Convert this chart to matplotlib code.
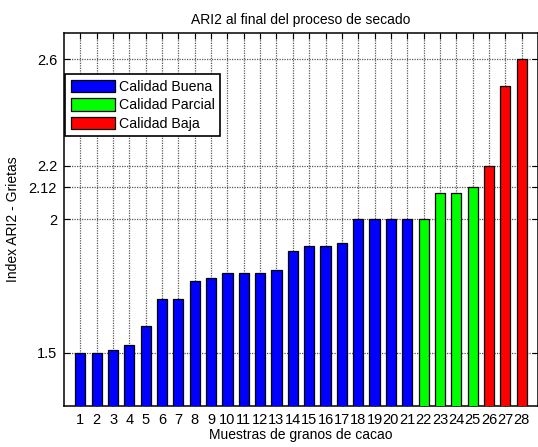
import numpy as np
import matplotlib
matplotlib.use("Agg")
import matplotlib.pyplot as plt

plt.rcParams['font.family'] = ['Liberation Sans', 'DejaVu Sans']

# Muestras y valores del indice ARI2
muestras = np.arange(1, 29)
ari2 = [1.50, 1.50, 1.51, 1.53, 1.60, 1.70, 1.70, 1.77, 1.78, 1.80,
        1.80, 1.80, 1.81, 1.88, 1.90, 1.90, 1.91, 2.00, 2.00, 2.00,
        2.00, 2.00, 2.10, 2.10, 2.12, 2.20, 2.50, 2.60]
calidad = ['Buena'] * 21 + ['Parcial'] * 4 + ['Baja'] * 3

grupos = ['Buena', 'Parcial', 'Baja']
etiquetas = ['Calidad Buena', 'Calidad Parcial', 'Calidad Baja']
colores = ['#0000ff', '#00ff00', '#ff0000']
yticks = [1.5, 2, 2.12, 2.2, 2.6]

fig = plt.figure(figsize=(5.38, 4.47), dpi=100)
ax = fig.add_axes([0.119, 0.092, 0.881, 0.835])

x = np.array(muestras)
y = np.array(ari2)
cal = np.array(calidad)
for g, lab, c in zip(grupos, etiquetas, colores):
    m = cal == g
    ax.bar(x[m], y[m], width=0.62, color=c, edgecolor='k', linewidth=0.9,
           label=lab, zorder=3)

ax.set_xlim(0, 29)
ax.set_ylim(1.3, 2.7)
ax.set_xticks(muestras)
ax.set_yticks(yticks)
ax.set_yticklabels(['1.5', '2', '2.12', '2.2', '2.6'])
ax.tick_params(direction='in', top=True, right=True, labelsize=10.5, length=4,
               pad=5)
ax.grid(True, linestyle=(0, (1, 1)), color='0.35', linewidth=0.9, zorder=0)
for s in ax.spines.values():
    s.set_linewidth(1.1)

ax.set_title('ARI2 al final del proceso de secado', fontsize=10)
ax.set_xlabel('Muestras de granos de cacao', fontsize=10, labelpad=1)
ax.set_ylabel('Index ARI2 - Grietas', fontsize=10, labelpad=6)

leg = ax.legend(loc='upper left', bbox_to_anchor=(0.002, 0.889), fontsize=10.2,
                fancybox=False, framealpha=1, edgecolor='k', borderaxespad=0,
                handlelength=3.1, handleheight=1.0, labelspacing=0.3,
                handletextpad=0.3, borderpad=0.4)
leg.get_frame().set_linewidth(1.2)
leg.set_zorder(5)

fig.savefig('out.png', dpi=100)
